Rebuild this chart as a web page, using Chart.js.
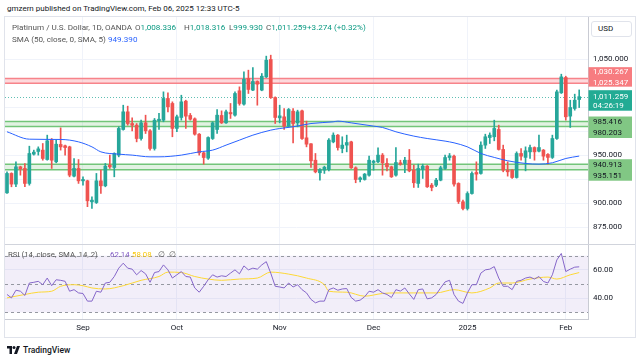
<!DOCTYPE html>
<html>
<head>
<meta charset="utf-8">
<script src="https://cdn.jsdelivr.net/npm/chart.js@4.4.1/dist/chart.umd.min.js"></script>
<style>
  body { margin: 0; width: 643px; height: 361px; background: #fff; position: relative; overflow: hidden;
         font-family: Roboto, "Liberation Sans", sans-serif; color: #131722; }
  .abs { position: absolute; white-space: nowrap; }
  #frame { left: 4px; top: 16px; width: 632px; height: 322px; border: 1px solid #e0e3eb; box-sizing: border-box; }
  canvas { position: absolute; }
  #hdr { left: 7px; top: 4px; font-size: 8px; }
  .lg { font-size: 8.1px; color: #555; }
  .up { color: #089981; }
  .blue { color: #2962ff; }
  #usd { left: 591px; top: 21px; width: 41px; height: 16px; border: 1px solid #e0e3eb; border-radius: 3px;
         box-sizing: border-box; font-size: 8px; line-height: 14px; padding-left: 6px; background: #fff; }
  #sep { left: 5px; top: 244px; width: 630px; height: 1px; background: #d1d4dc; }
  #tv { left: 7px; top: 345px; font-size: 8.5px; font-weight: 500; display: flex; align-items: center; gap: 3px; }
</style>
</head>
<body>
<div class="abs" id="hdr">gmzern published on TradingView.com, Feb 06, 2025 12:33 UTC-5</div>
<div class="abs" id="frame"></div>
<canvas id="price" width="630" height="227" style="left:5px;top:17px"></canvas>
<canvas id="rsi" width="630" height="93" style="left:5px;top:244px"></canvas>
<div class="abs" id="sep"></div>
<div class="abs lg" style="left:12px;top:22px">Platinum / U.S. Dollar, 1D, OANDA</div>
<div class="abs lg" style="left:135px;top:22px">O<span class="up">1,008.336</span></div>
<div class="abs lg" style="left:184px;top:22px">H<span class="up">1,018.316</span></div>
<div class="abs lg" style="left:229px;top:22px">L<span class="up">999.930</span></div>
<div class="abs lg" style="left:266px;top:22px">C<span class="up">1,011.259</span></div>
<div class="abs lg up" style="left:307px;top:22px">+3.274 (+0.32%)</div>
<div class="abs lg" style="left:12px;top:34px">SMA (50, close, 0, SMA, 5)</div>
<div class="abs lg blue" style="left:108px;top:34px">949.390</div>
<div class="abs lg" style="left:8px;top:250px;font-size:7.8px">RSI (14, close, SMA, 14, 2)</div>
<div class="abs lg" style="left:110px;top:250px;font-size:7.8px;color:#7e57c2">62.14</div>
<div class="abs lg" style="left:132px;top:250px;font-size:7.8px;color:#f9c80e">58.08</div>
<div class="abs lg" style="left:158px;top:250px;font-size:7.8px">∅&nbsp; ∅</div>
<div class="abs" id="usd">USD</div>
<div class="abs" id="tv">
  <svg width="13" height="8" viewBox="0 0 26 16"><path d="M0 0h10v16H5V5H0z" fill="#131722"/><circle cx="14" cy="3" r="3" fill="#131722"/><path d="M20 0h6l-6 16h-6z" fill="#131722"/></svg>
  <span>TradingView</span>
</div>
<script>
// daily bars, Aug 8 2024 .. Feb 6 2025 (OANDA XPTUSD)
const opens = [911.1,931.3,920.2,938.2,936.5,920.9,951.4,954.2,955.6,945.8,966.0,943.4,961.5,960.1,959.0,928.5,936.5,923.6,923.6,901.7,
  901.0,923.6,918.4,939.9,937.5,950.4,977.1,995.5,983.3,981.6,967.7,984.0,975.7,957.3,986.1,986.8,1009.4,1004.2,978.2,989.6,
  1006.6,991.7,988.2,972.2,952.8,947.2,967.7,977.1,991.7,984.0,994.8,992.0,1017.4,1003.5,1030.2,1018.1,1027.1,1018.1,1031.9,1050.0,
  1010.4,989.2,990.3,980.6,996.2,984.0,996.5,968.4,962.2,945.1,932.0,934.7,935.4,964.2,971.2,957.3,960.8,964.2,937.2,925.0,
  925.0,929.5,942.7,943.4,950.4,941.7,938.2,929.5,942.4,941.7,945.1,934.7,920.9,935.4,938.9,919.1,919.1,924.3,936.5,947.9,
  949.3,920.9,901.8,894.8,910.4,932.3,931.3,960.8,968.7,969.5,977.1,956.3,934.7,934.7,927.1,952.1,948.0,953.8,958.3,954.5,
  955.6,951.1,948.0,967.7,1015.3,1031.2,991.0,999.0,1008.336];
const highs = [933.0,932.0,943.4,938.9,941.7,959.7,955.6,959.0,962.5,971.2,967.7,966.0,978.8,960.8,959.7,946.9,945.8,927.8,924.3,907.0,
  931.3,934.7,941.7,950.4,952.8,979.9,1002.4,1001.4,989.2,983.3,986.8,992.0,977.1,988.6,993.8,1016.3,1015.3,1005.9,992.0,1012.8,
  1007.6,993.8,989.2,972.9,953.8,969.5,985.1,997.9,996.5,997.2,1004.2,1016.3,1021.5,1037.2,1038.9,1041.7,1027.8,1035.4,1053.5,1054.5,
  1011.1,1002.4,999.0,999.0,999.0,997.2,997.2,985.8,962.5,952.1,936.5,938.9,967.7,973.6,971.9,969.5,971.2,964.9,938.2,927.8,
  931.3,949.3,945.1,958.0,952.1,946.9,938.9,958.3,945.1,948.0,956.3,940.0,941.0,941.0,939.6,920.9,926.1,938.9,950.4,952.1,
  950.4,921.6,903.5,912.2,933.0,943.4,964.2,972.2,973.6,986.8,981.6,960.8,943.4,935.4,953.8,957.3,959.0,960.8,959.0,971.2,
  956.3,952.1,971.2,1018.1,1034.7,1032.6,1007.6,1013.9,1018.316];
const lows = [910.4,917.4,917.4,929.5,917.4,919.1,950.4,950.4,945.1,945.1,936.5,942.4,955.6,950.4,927.8,927.8,920.9,919.1,896.7,894.9,
  900.0,910.4,917.4,936.5,927.8,948.6,976.4,981.6,975.7,964.2,966.0,972.9,955.6,955.6,977.1,985.1,995.5,969.5,974.7,986.8,
  978.2,986.8,971.2,950.4,941.0,945.8,966.7,972.9,983.3,983.3,988.6,991.0,1002.4,1002.4,1014.6,1017.4,1002.4,1017.4,1031.2,1009.4,
  983.3,984.0,977.1,979.9,963.2,979.9,966.7,959.0,937.5,931.9,924.3,931.3,934.0,963.2,955.6,952.8,953.8,936.5,921.6,922.6,
  924.3,928.5,934.7,942.4,929.5,934.0,927.1,928.5,939.9,932.0,933.0,916.7,916.7,926.1,916.7,913.2,917.4,923.6,935.4,945.1,
  918.1,900.0,893.2,893.2,909.7,924.3,930.6,957.3,962.5,965.3,955.6,933.0,928.5,926.1,926.4,945.1,934.0,946.9,945.1,953.8,
  945.1,941.0,946.9,966.7,1014.6,986.8,979.2,997.2,999.93];
const closes = [931.3,920.2,938.2,936.1,920.9,952.1,953.5,956.9,946.9,965.3,945.1,961.8,959.0,958.3,929.5,936.5,923.6,925.0,902.8,903.5,
  923.6,918.4,938.9,938.2,952.1,978.2,995.5,983.3,981.6,967.7,984.0,975.7,957.3,986.8,987.8,1009.4,1000.7,978.2,990.3,1005.9,
  991.0,987.8,972.2,952.8,947.9,968.7,984.0,992.0,984.0,995.5,993.4,1014.6,1004.2,1029.5,1018.8,1027.1,1024.3,1032.6,1049.3,1010.4,
  989.6,991.3,980.6,997.9,983.3,995.5,967.7,961.8,944.4,933.0,935.4,937.8,966.0,971.2,958.3,960.8,963.5,937.2,925.0,926.7,
  930.6,945.1,944.1,950.4,942.4,938.2,927.8,942.7,941.0,945.1,934.0,921.6,936.5,938.9,917.4,916.7,924.3,937.2,947.9,949.7,
  920.2,902.1,894.8,910.4,931.3,930.6,960.8,969.5,971.2,978.2,956.3,934.7,933.0,927.1,952.1,949.3,954.9,958.3,953.8,958.3,
  949.3,948.0,967.7,1016.3,1031.9,990.3,1000.0,1007.6,1011.259];

// SMA(50) read at selected bars
const smaIdx = [0,5,12,16,19,21,25,28,32,34,39,43,46,49,52,55,59,61,64,68,73,74,77,82,84,87,91,94,98,100,103,106,109,112,116,119,122,125,128];
const smaVal = [974.7,967.0,966.7,964.2,959.0,953.8,951.4,950.4,948.6,948.6,950.4,953.8,955.6,960.8,966.0,971.2,976.4,978.1,979.9,983.3,
  985.1,985.8,984.0,980.6,979.2,974.7,970.2,967.7,965.0,963.2,959.0,952.1,948.0,944.5,941.7,941.0,942.4,946.9,949.39];

// RSI(14) per bar and its SMA(14) at selected bars
const rsiVal = [42.6,40.2,45.6,44.9,41.9,50.7,51.2,51.9,49.5,54.2,48.8,53.0,52.6,51.9,44.9,46.0,43.7,43.3,37.9,37.9,
  44.9,44.2,50.7,51.2,55.3,61.2,64.7,61.2,60.5,56.5,59.5,57.2,51.2,58.1,58.8,63.5,60.0,54.2,56.5,58.8,
  55.3,54.9,47.2,44.2,48.4,53.0,56.5,54.9,55.8,55.3,57.7,60.0,57.2,62.8,60.0,61.2,60.5,63.5,65.8,57.7,
  48.4,47.9,47.2,50.7,47.9,49.5,46.0,43.7,39.1,36.7,37.9,37.9,46.0,47.2,45.6,46.5,46.8,40.5,37.9,38.6,
  41.0,44.9,44.2,46.0,43.7,42.6,40.5,46.0,45.0,47.2,43.0,39.1,46.0,46.5,39.5,40.2,42.6,47.2,51.5,52.6,
  42.6,37.9,36.3,43.7,49.5,49.5,57.7,60.0,60.5,62.3,54.2,48.4,48.4,46.0,51.9,52.6,54.2,54.9,53.5,55.3,
  51.8,50.7,56.5,67.0,71.6,58.8,60.5,61.9,62.14];
const rsiMaIdx = [0,4,7,10,12,15,17,19,22,26,30,34,36,39,42,45,48,52,56,59,63,67,71,72,76,80,84,87,91,96,100,104,108,110,113,117,121,123,126,128];
const rsiMaVal = [40.2,42.6,44.2,44.9,48.4,49.5,48.8,47.2,46.5,48.8,52.6,55.3,58.4,58.1,55.3,53.5,52.6,53.5,54.2,58.4,
  57.0,54.2,49.5,44.9,44.2,41.4,43.3,43.7,43.7,43.7,46.0,43.7,47.2,50.7,50.7,53.5,54.9,53.5,56.5,58.08];

// horizontal levels
const resistZone = [1030.267, 1025.347];
const supportZones = [[985.416, 980.203], [940.913, 935.151]];
const lastPrice = 1011.259;
const countdown = '04:26:19';

// time axis
const monthIdx = [17, 38, 61, 82, 103, 125];
const monthLabels = ['Sep', 'Oct', 'Nov', 'Dec', '2025', 'Feb'];
const priceTicks = [875, 900, 925, 950, 975, 1000, 1025, 1050];
const priceLabelled = [875, 900, 950, 1050];

const UP = '#26a69a', DOWN = '#ef5350';
const GRID = '#f0f3fa';
const FONT = 'Roboto, "Liberation Sans", sans-serif';
const X_MIN = -0.447, X_MAX = 129.97;

const colors = closes.map((c, i) => c >= opens[i] ? UP : DOWN);
const fmt = v => v.toLocaleString('en-US', { minimumFractionDigits: 3, maximumFractionDigits: 3 });

// fixed axis sizes, no extra label padding so the plot fills the pane
function yFit(s) { s.width = 47; s.paddingTop = 0; s.paddingBottom = 0; }
function xFit(h) { return s => { s.height = h; s.paddingLeft = 0; s.paddingRight = 0; }; }

const levelsPlugin = {
  id: 'levels',
  beforeDatasetsDraw(chart) {
    const { ctx, chartArea: a, scales: { y } } = chart;
    ctx.save();
    const band = (hi, lo, line, fill) => {
      const y1 = y.getPixelForValue(hi), y2 = y.getPixelForValue(lo);
      ctx.fillStyle = fill;
      ctx.fillRect(a.left, y1, a.right - a.left, y2 - y1);
      ctx.strokeStyle = line;
      ctx.lineWidth = 1.5;
      [y1, y2].forEach(yy => { ctx.beginPath(); ctx.moveTo(a.left, yy); ctx.lineTo(a.right, yy); ctx.stroke(); });
    };
    band(resistZone[0], resistZone[1], '#f7838a', 'rgba(247,82,95,0.22)');
    supportZones.forEach(z => band(z[0], z[1], '#73c57a', 'rgba(76,175,80,0.16)'));
    // last price dotted line
    const yl = Math.round(y.getPixelForValue(lastPrice)) + 0.5;
    ctx.strokeStyle = '#5fbfb3';
    ctx.lineWidth = 1;
    ctx.setLineDash([1, 2]);
    ctx.beginPath(); ctx.moveTo(a.left, yl); ctx.lineTo(a.right, yl); ctx.stroke();
    ctx.restore();
  },
  afterDraw(chart) {
    const { ctx, chartArea: a, scales: { y } } = chart;
    const x0 = a.right + 0.5, w = 43.5, tx = a.right + 5;
    ctx.save();
    ctx.font = '8px ' + FONT;
    ctx.textBaseline = 'middle';
    const box = (top, h, bg, fg, lines, firstY, step) => {
      ctx.fillStyle = bg;
      ctx.fillRect(x0, top, w, h);
      ctx.fillStyle = fg;
      lines.forEach((t, k) => ctx.fillText(t, tx, firstY + k * step));
    };
    const yr = y.getPixelForValue(resistZone[1]);
    box(yr - 16, 19.5, '#f77c80', '#fff', [fmt(resistZone[0]), fmt(resistZone[1])], yr - 11, 10.5);
    const yp = y.getPixelForValue(lastPrice);
    box(yp - 6.5, 20.5, '#22ab94', '#fff', [fmt(lastPrice), countdown], yp, 9.5);
    supportZones.forEach(z => {
      const ys = y.getPixelForValue(z[0]);
      box(ys - 5, 21.5, '#81c784', '#131722', [fmt(z[0]), fmt(z[1])], ys + 0.7, 11);
    });
    ctx.restore();
  }
};

const rsiPlugin = {
  id: 'rsiBand',
  beforeDatasetsDraw(chart) {
    const { ctx, chartArea: a, scales: { y } } = chart;
    const y70 = y.getPixelForValue(70), y30 = y.getPixelForValue(30);
    ctx.save();
    ctx.fillStyle = 'rgba(126,87,194,0.1)';
    ctx.fillRect(a.left, y70, a.right - a.left, y30 - y70);
    ctx.strokeStyle = '#9598a1';
    ctx.lineWidth = 1;
    ctx.setLineDash([3, 3]);
    [70, 50, 30].forEach(v => {
      const yy = Math.round(y.getPixelForValue(v)) + 0.5;
      ctx.beginPath(); ctx.moveTo(a.left, yy); ctx.lineTo(a.right, yy); ctx.stroke();
    });
    ctx.restore();
  }
};

const common = {
  responsive: false, animation: false, devicePixelRatio: 1, events: [],
  layout: { padding: 0 },
  plugins: { legend: { display: false }, tooltip: { enabled: false } }
};

const monthGrid = s => { s.ticks = monthIdx.map(v => ({ value: v })); };

new Chart(document.getElementById('price'), {
  type: 'bar',
  data: {
    datasets: [
      { type: 'line', data: smaIdx.map((x, k) => ({ x, y: smaVal[k] })), borderColor: '#2962ff', borderWidth: 1,
        pointRadius: 0, cubicInterpolationMode: 'monotone', order: 0 },
      { data: lows.map((l, i) => ({ x: i, y: [l, highs[i]] })), backgroundColor: colors, barThickness: 1,
        grouped: false, borderWidth: 0, order: 2 },
      { data: opens.map((o, i) => ({ x: i, y: [o, closes[i]] })), backgroundColor: colors, barThickness: 3,
        grouped: false, borderWidth: 0, minBarLength: 1, order: 1 }
    ]
  },
  options: {
    ...common,
    scales: {
      x: { type: 'linear', min: X_MIN, max: X_MAX, offset: false, afterBuildTicks: monthGrid, afterFit: xFit(0),
           ticks: { display: false }, grid: { color: GRID, drawTicks: false, offset: false }, border: { display: false } },
      y: { position: 'right', min: 857.81, max: 1094.27, afterFit: yFit,
           afterBuildTicks: s => { s.ticks = priceTicks.map(v => ({ value: v })); },
           ticks: { padding: 5, color: '#131722', font: { family: FONT, size: 8 },
                    callback: v => priceLabelled.includes(v) ? fmt(v) : '' },
           grid: { color: GRID, drawTicks: false }, border: { color: '#c9cbd3' } }
    }
  },
  plugins: [levelsPlugin]
});

new Chart(document.getElementById('rsi'), {
  type: 'line',
  data: {
    datasets: [
      { data: rsiVal.map((v, i) => ({ x: i, y: v })), borderColor: '#8566c9', borderWidth: 1, pointRadius: 0 },
      { data: rsiMaIdx.map((x, k) => ({ x, y: rsiMaVal[k] })), borderColor: '#fdd835', borderWidth: 1, pointRadius: 0,
        cubicInterpolationMode: 'monotone' }
    ]
  },
  options: {
    ...common,
    scales: {
      x: { type: 'linear', min: X_MIN, max: X_MAX, afterBuildTicks: monthGrid, afterFit: xFit(18),
           ticks: { color: '#131722', font: { family: FONT, size: 8 }, padding: 4, maxRotation: 0,
                    callback: v => monthLabels[monthIdx.indexOf(v)] },
           grid: { color: GRID, drawTicks: false }, border: { color: '#c9cbd3' } },
      y: { position: 'right', min: 25.27, max: 78.27, afterFit: yFit,
           afterBuildTicks: s => { s.ticks = [40, 60].map(v => ({ value: v })); },
           ticks: { padding: 5, color: '#131722', font: { family: FONT, size: 8 }, callback: v => v.toFixed(2) },
           grid: { color: GRID, drawTicks: false }, border: { color: '#c9cbd3' } }
    }
  },
  plugins: [rsiPlugin]
});
</script>
</body>
</html>
